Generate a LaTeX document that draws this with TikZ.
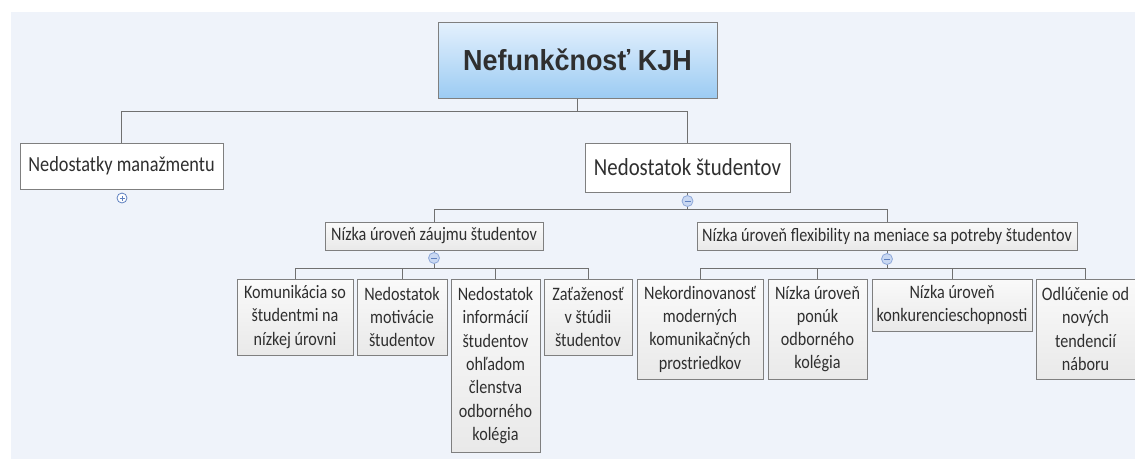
\documentclass[tikz,border=0pt]{standalone}
\usepackage{fontspec}
\newfontfamily\boxfont[FakeStretch=0.85]{Carlito}
\newfontfamily\rootfont[FakeStretch=0.93]{Liberation Sans}
\definecolor{pagebg}{HTML}{EFF3FA}
\definecolor{boxline}{HTML}{7F7F7F}
\definecolor{boxtext}{HTML}{2F2F2F}
\definecolor{linkgray}{HTML}{707070}
\definecolor{roottop}{HTML}{E4F1FD}
\definecolor{rootbottom}{HTML}{9CCBF3}
\definecolor{leaftop}{HTML}{FAFAFA}
\definecolor{leafbottom}{HTML}{E9E9E9}
\definecolor{iconfill}{HTML}{C9D8F2}
\definecolor{iconline}{HTML}{8FA9DA}
\definecolor{iconmark}{HTML}{5F80C0}

\begin{document}
\begin{tikzpicture}[x=1pt,y=-1pt,
  box/.style={draw=boxline,line width=1pt,inner sep=0pt,align=center,text=boxtext},
  rootbox/.style={box,top color=roottop,bottom color=rootbottom,font=\rootfont\bfseries\fontsize{29}{32}\selectfont},
  mainbox/.style={box,fill=white,font=\boxfont\fontsize{24.5}{28}\selectfont},
  groupbox/.style={box,top color=leaftop,bottom color=leafbottom,font=\boxfont\fontsize{19}{23.3}\selectfont},
  leafbox/.style={groupbox},
  link/.style={draw=linkgray,line width=1pt},
  plustoggle/.style={circle,draw=iconmark,fill=white,line width=0.8pt,minimum size=10,inner sep=0pt,
    path picture={\draw[iconmark,line width=0.9pt] ([xshift=2.5pt]path picture bounding box.west) -- ([xshift=-2.5pt]path picture bounding box.east)
      ([yshift=-2.5pt]path picture bounding box.north) -- ([yshift=2.5pt]path picture bounding box.south);}},
  minustoggle/.style={circle,draw=iconline,fill=iconfill,line width=0.8pt,minimum size=11,inner sep=0pt,
    path picture={\draw[iconmark,line width=0.9pt] ([xshift=2.5pt]path picture bounding box.west) -- ([xshift=-2.5pt]path picture bounding box.east);}}]
\useasboundingbox (0,0) rectangle (1135,459);
\fill[pagebg] (11,12) rectangle (1135,459);

\node[rootbox,minimum width=279,minimum height=76] (root) at (577.5,60) {Nefunkčnosť KJH};
\node[mainbox,minimum width=203,minimum height=46,font=\boxfont\fontsize{21.5}{26}\selectfont] (man) at (121.5,166) {Nedostatky manažmentu};
\node[mainbox,minimum width=205,minimum height=49] (stud) at (687.5,167.5) {Nedostatok študentov};

\node[groupbox,minimum width=218,minimum height=28] (zaujem) at (434,236) {Nízka úroveň záujmu študentov};
\node[groupbox,minimum width=380,minimum height=28] (flex) at (887,236) {Nízka úroveň flexibility na meniace sa potreby študentov};

\node[leafbox,minimum width=116,minimum height=76] (kom) at (295,317) {Komunikácia so\\študentmi na\\nízkej úrovni};
\node[leafbox,minimum width=90,minimum height=76] (mot) at (402,317) {Nedostatok\\motivácie\\študentov};
\node[leafbox,minimum width=89,minimum height=173] (inf) at (495.5,365.5) {Nedostatok\\informácií\\študentov\\ohľadom\\členstva\\odborného\\kolégia};
\node[leafbox,minimum width=88,minimum height=76] (zat) at (588,317) {Zaťaženosť\\v štúdii\\študentov};

\node[leafbox,minimum width=126,minimum height=100] (nek) at (700,329) {Nekordinovanosť\\moderných\\komunikačných\\prostriedkov};
\node[leafbox,minimum width=99,minimum height=100] (pon) at (817.5,329) {Nízka úroveň\\ponúk\\odborného\\kolégia};
\node[leafbox,minimum width=160,minimum height=52] (konk) at (952,305) {Nízka úroveň\\konkurencieschopnosti};
\node[leafbox,minimum width=99,minimum height=100] (odl) at (1085.5,329) {Odlúčenie od\\nových\\tendencií\\náboru};

\draw[link] (root.south) -- ++(0,13) -| (man.north);
\draw[link] (root.south) -- ++(0,13) -| (stud.north);
\draw[link] (stud.south) -- ++(0,17) -| (zaujem.north);
\draw[link] (stud.south) -- ++(0,17) -| (flex.north);
\draw[link] (zaujem.south) -- ++(0,18) -| (kom.north);
\draw[link] (zaujem.south) -- ++(0,18) -| (mot.north);
\draw[link] (zaujem.south) -- ++(0,18) -| (inf.north);
\draw[link] (zaujem.south) -- ++(0,18) -| (zat.north);
\draw[link] (flex.south) -- ++(0,18) -| (nek.north);
\draw[link] (flex.south) -- ++(0,18) -| (pon.north);
\draw[link] (flex.south) -- ++(0,18) -| (konk.north);
\draw[link] (flex.south) -- ++(0,18) -| (odl.north);

\node[plustoggle] (mantoggle) at (122,198) {};
\node[minustoggle] (studtoggle) at (687.5,201) {};
\node[minustoggle] (zaujemtoggle) at (434,258) {};
\node[minustoggle] (flextoggle) at (887,259) {};
\end{tikzpicture}
\end{document}
